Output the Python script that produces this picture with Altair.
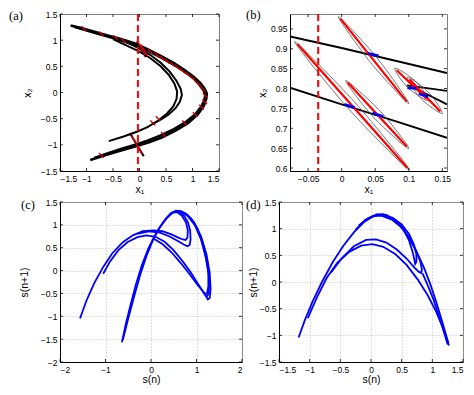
import altair as alt
import pandas as pd

# ---------------- Panel (a) data ----------------
a_outer1_x = [-1.30, -1.10, -0.85, -0.60, -0.35, -0.10, 0.15, 0.40, 0.65, 0.85, 1.02, 1.15, 1.23, 1.27, 1.26, 1.21, 1.10, 0.92, 0.68, 0.42, 0.18, -0.05, -0.35, -0.65, -0.93]
a_outer1_y = [1.28, 1.23, 1.16, 1.09, 1.02, 0.94, 0.83, 0.70, 0.56, 0.43, 0.30, 0.18, 0.07, -0.02, -0.12, -0.26, -0.42, -0.58, -0.73, -0.86, -0.95, -1.02, -1.11, -1.20, -1.29]
a_outer2_x = [-1.22, -0.85, -0.35, -0.10, 0.15, 0.40, 0.65, 0.85, 1.02, 1.13, 1.21, 1.24, 1.22, 1.16, 1.05, 0.88, 0.65, 0.40, 0.15, -0.05, -0.35, -0.62, -0.85]
a_outer2_y = [1.25, 1.14, 1.00, 0.91, 0.80, 0.67, 0.53, 0.40, 0.27, 0.15, 0.04, -0.05, -0.16, -0.28, -0.42, -0.56, -0.70, -0.82, -0.92, -0.99, -1.08, -1.17, -1.25]
a_inner1_x = [-0.50, -0.25, 0.00, 0.20, 0.40, 0.55, 0.66, 0.71, 0.70, 0.64, 0.52, 0.35, 0.15, -0.05, -0.30, -0.58]
a_inner1_y = [1.02, 0.90, 0.78, 0.66, 0.50, 0.34, 0.17, 0.02, -0.12, -0.26, -0.40, -0.54, -0.66, -0.75, -0.84, -0.93]
a_inner2_x = [-0.45, -0.20, 0.00, 0.20, 0.40, 0.57, 0.70, 0.78, 0.80, 0.76, 0.68, 0.55, 0.40, 0.25]
a_inner2_y = [1.04, 0.94, 0.84, 0.72, 0.57, 0.40, 0.22, 0.06, -0.05, -0.18, -0.30, -0.42, -0.52, -0.60]
a_red_x = [-1.05, -0.72, -0.45, -0.30, 0.05, 0.20, 0.32, 0.42, 0.52, 0.62, 0.72, 0.82, 0.92, 1.02, 1.12, 1.20, 1.24, 1.23, 1.17, 1.05, 0.85, 0.45, 0.25, 0.35, -0.72]
a_red_y = [1.22, 1.12, 1.05, 0.99, 0.86, 0.78, 0.72, 0.66, 0.60, 0.54, 0.48, 0.41, 0.34, 0.26, 0.16, 0.06, -0.06, -0.18, -0.28, -0.42, -0.58, -0.80, -0.58, -0.50, -1.20]
a_blackseg = {"x": [-0.05, -0.18], "y": [0.98, -0.78], "x2": [0.12, 0.08], "y2": [0.68, -1.22]}
a_redseg = {"x": [-0.02, 0.02, -0.15], "y": [0.95, 0.92, -0.82], "x2": [0.10, 0.15, 0.05], "y2": [0.72, 0.70, -1.18]}
a_vline = [-0.03]
a_ticks = [-1.5, -1, -0.5, 0, 0.5, 1, 1.5]

# ---------------- Panel (b) data ----------------
b_lines = {
    "upper": ([-0.077, 0.0, 0.08, 0.157], [0.931, 0.902, 0.870, 0.839]),
    "lower": ([-0.077, 0.0, 0.08, 0.157], [0.802, 0.760, 0.718, 0.676]),
    "r1": ([0.097, 0.157], [0.808, 0.794]),
    "r2": ([0.102, 0.157], [0.807, 0.760]),
}
# ellipse outlines: tipA, side1, tipB, side2
b_ell = {
    "e1": ([-0.070, 0.0205, 0.101, 0.0105], [0.918, 0.7635, 0.595, 0.7485]),
    "e2": ([-0.005, 0.0524, 0.100, 0.0432], [0.981, 0.8778, 0.762, 0.8652]),
    "e3": ([0.006, 0.058, 0.100, 0.048], [0.820, 0.742, 0.649, 0.727]),
    "e4": ([0.079, 0.1096, 0.130, 0.0994], [0.851, 0.819, 0.769, 0.801]),
    "e5": ([0.098, 0.1294, 0.150, 0.1186], [0.828, 0.791, 0.737, 0.774]),
}
b_redseg = {"x": [-0.066, -0.002, 0.009, 0.082, 0.101], "y": [0.912, 0.976, 0.815, 0.846, 0.823],
            "x2": [0.098, 0.097, 0.097, 0.127, 0.147], "y2": [0.600, 0.767, 0.654, 0.774, 0.742]}
b_blueseg = {"x": [0.039, 0.004, 0.046, 0.098, 0.115], "y": [0.8886, 0.7602, 0.7382, 0.8016, 0.7866],
             "x2": [0.055, 0.020, 0.062, 0.112, 0.129], "y2": [0.8824, 0.7518, 0.7298, 0.8004, 0.7794]}
b_vline = [-0.035]
b_xticks = [-0.05, 0, 0.05, 0.1, 0.15]
b_yticks = [0.6, 0.65, 0.7, 0.75, 0.8, 0.85, 0.9, 0.95]

# ---------------- Panel (c) data ----------------
c_lines = {
    "p1": ([-1.56, -1.42, -1.25, -1.05, -0.85, -0.62, -0.40, -0.18, 0.05, 0.25, 0.45, 0.60, 0.70, 0.76, 0.80, 0.81, 0.77, 0.68, 0.57, 0.47, 0.36, 0.22, 0.08, -0.06, -0.20, -0.33, -0.45, -0.55, -0.64],
           [-1.05, -0.66, -0.28, 0.08, 0.38, 0.62, 0.77, 0.86, 0.88, 0.86, 0.79, 0.72, 0.68, 0.67, 0.72, 0.88, 1.05, 1.20, 1.28, 1.26, 1.16, 0.98, 0.76, 0.48, 0.12, -0.30, -0.75, -1.15, -1.57]),
    "p2": ([-1.05, -0.90, -0.72, -0.52, -0.30, -0.10, 0.10, 0.30, 0.50, 0.70, 0.88, 1.02, 1.13, 1.20, 1.25, 1.29, 1.31, 1.29, 1.22, 1.10, 0.95, 0.80, 0.66, 0.55, 0.44, 0.32, 0.18, 0.04, -0.10, -0.24, -0.38, -0.50, -0.62],
           [-0.07, 0.20, 0.44, 0.62, 0.73, 0.77, 0.74, 0.63, 0.44, 0.20, -0.05, -0.27, -0.44, -0.55, -0.63, -0.60, -0.40, -0.05, 0.35, 0.75, 1.05, 1.22, 1.30, 1.31, 1.26, 1.13, 0.93, 0.66, 0.32, -0.10, -0.60, -1.05, -1.52]),
    "p3": ([-0.30, -0.05, 0.20, 0.42, 0.60, 0.72, 0.80, 0.85, 0.87, 0.86, 0.81, 0.72, 0.62, 0.52],
           [0.80, 0.86, 0.83, 0.74, 0.64, 0.57, 0.53, 0.56, 0.68, 0.88, 1.06, 1.21, 1.29, 1.29]),
    "p4": ([0.05, 0.25, 0.45, 0.65, 0.85, 1.00, 1.12, 1.19, 1.23, 1.26, 1.26, 1.20, 1.10, 0.96, 0.82, 0.68, 0.58],
           [0.70, 0.58, 0.40, 0.17, -0.08, -0.28, -0.43, -0.51, -0.50, -0.35, -0.05, 0.30, 0.68, 1.00, 1.18, 1.28, 1.30]),
    "p5": ([1.22, 1.27, 1.28, 1.24, 1.15, 1.02, 0.88, 0.74, 0.62],
           [-0.58, -0.50, -0.20, 0.15, 0.55, 0.92, 1.14, 1.26, 1.30]),
}
c_xticks = [-2, -1, 0, 1, 2]
c_yticks = [-2, -1.5, -1, -0.5, 0, 0.5, 1, 1.5]

# ---------------- Panel (d) data ----------------
d_lines = {
    "d1": ([-1.18, -1.08, -0.95, -0.80, -0.62, -0.45, -0.28, -0.12, 0.02, 0.12, 0.25, 0.38, 0.50, 0.62, 0.74, 0.86, 0.97, 1.07, 1.16, 1.22, 1.26, 1.27],
           [-1.04, -0.72, -0.36, 0.00, 0.38, 0.68, 0.93, 1.12, 1.22, 1.26, 1.24, 1.16, 1.03, 0.83, 0.58, 0.28, -0.05, -0.40, -0.74, -0.98, -1.15, -1.19]),
    "d2": ([1.26, 1.18, 1.06, 0.92, 0.76, 0.58, 0.40, 0.20, 0.02, -0.16, -0.35, -0.55, -0.72, -0.87, -0.97, -1.03],
           [-1.14, -0.88, -0.55, -0.24, 0.05, 0.32, 0.52, 0.66, 0.71, 0.68, 0.57, 0.36, 0.08, -0.26, -0.52, -0.68]),
    "d3": ([-0.65, -0.48, -0.28, -0.08, 0.08, 0.25, 0.42, 0.58, 0.70, 0.78, 0.82, 0.83, 0.80, 0.72, 0.62, 0.48, 0.34, 0.18, 0.04, -0.10, -0.25],
           [0.18, 0.44, 0.67, 0.79, 0.80, 0.74, 0.61, 0.44, 0.28, 0.19, 0.17, 0.24, 0.40, 0.62, 0.84, 1.04, 1.17, 1.24, 1.24, 1.16, 0.98]),
    "d4": ([-0.20, -0.05, 0.10, 0.25, 0.40, 0.52, 0.62, 0.68, 0.71, 0.72, 0.74, 0.74, 0.70, 0.62, 0.50, 0.36, 0.20, 0.05, -0.10],
           [1.06, 1.19, 1.27, 1.26, 1.16, 1.00, 0.78, 0.56, 0.40, 0.34, 0.38, 0.52, 0.70, 0.90, 1.08, 1.20, 1.27, 1.25, 1.16]),
    "d6": ([0.84, 0.92, 1.02, 1.12, 1.20, 1.25],
           [0.16, -0.05, -0.33, -0.68, -0.98, -1.17]),
}
d_ticks = [-1.5, -1, -0.5, 0, 0.5, 1, 1.5]

LABEL_FONT = "Liberation Sans"


def series_df(series):
    rows = []
    for name, (xs, ys) in series.items():
        for i, (x, y) in enumerate(zip(xs, ys)):
            rows.append({"s": name, "i": i, "x": x, "y": y})
    return pd.DataFrame(rows)


def make_enc(xdom, ydom, xvals, yvals, xtitle, ytitle, grid, ytpad, xtpad):
    ax = alt.Axis(values=xvals, title=xtitle, grid=grid, format="~g", titlePadding=xtpad)
    ay = alt.Axis(values=yvals, title=ytitle, grid=grid, format="~g", titlePadding=ytpad)
    X = alt.X("x:Q", scale=alt.Scale(domain=xdom, nice=False, zero=False), axis=ax)
    Y = alt.Y("y:Q", scale=alt.Scale(domain=ydom, nice=False, zero=False), axis=ay)
    return X, Y


def label_layer(txt, dx, dy):
    return alt.Chart(pd.DataFrame({"t": [txt]})).mark_text(
        font="Liberation Serif", fontSize=12.5, align="left", baseline="middle", color="black"
    ).encode(x=alt.value(dx), y=alt.value(dy), text="t:N")


def inner_ticks(X, Y, xvals, yvals, W, H, L=3):
    """MATLAB-style inward tick marks on all four sides."""
    dx = pd.DataFrame({"x": xvals})
    dy = pd.DataFrame({"y": yvals})
    style = dict(color="black", strokeWidth=0.8)
    return [
        alt.Chart(dx).mark_rule(**style).encode(x=X, y=alt.value(H), y2=alt.value(H - L)),
        alt.Chart(dx).mark_rule(**style).encode(x=X, y=alt.value(0), y2=alt.value(L)),
        alt.Chart(dy).mark_rule(**style).encode(y=Y, x=alt.value(0), x2=alt.value(L)),
        alt.Chart(dy).mark_rule(**style).encode(y=Y, x=alt.value(W), x2=alt.value(W - L)),
    ]


# ---------------- Panel (a) ----------------
WA, HA = 159, 157
Xa, Ya = make_enc([-1.5, 1.5], [-1.5, 1.5], a_ticks, a_ticks, "x₁", "x₂", False, 8, 2)
a_outer = series_df({"o1": (a_outer1_x, a_outer1_y), "o2": (a_outer2_x, a_outer2_y)})
a_inner = series_df({"i1": (a_inner1_x, a_inner1_y), "i2": (a_inner2_x, a_inner2_y)})
pa = alt.layer(
    alt.Chart(a_outer).mark_line(color="black", strokeWidth=2.6, clip=True).encode(x=Xa, y=Ya, detail="s:N", order="i:Q"),
    alt.Chart(a_inner).mark_line(color="black", strokeWidth=2.0, clip=True).encode(x=Xa, y=Ya, detail="s:N", order="i:Q"),
    alt.Chart(pd.DataFrame(a_blackseg)).mark_rule(color="black", strokeWidth=2).encode(x=Xa, y=Ya, x2="x2:Q", y2="y2:Q"),
    alt.Chart(pd.DataFrame(a_redseg)).mark_rule(color="#e00000", strokeWidth=1.3).encode(x=Xa, y=Ya, x2="x2:Q", y2="y2:Q"),
    alt.Chart(pd.DataFrame({"x": a_red_x, "y": a_red_y})).mark_point(
        shape="M -1 -1 L 1 1", stroke="#d00000", strokeWidth=1.4, size=22, filled=False, opacity=1).encode(x=Xa, y=Ya),
    alt.Chart(pd.DataFrame({"x": a_vline})).mark_rule(color="#ff0000", strokeWidth=2, strokeDash=[7, 4]).encode(x=Xa),
    *inner_ticks(Xa, Ya, a_ticks, a_ticks, WA, HA),
    label_layer("(a)", -51, 2),
).properties(width=WA, height=HA)

# ---------------- Panel (b) ----------------
WB, HB = 157, 157
Xb, Yb = make_enc([-0.077, 0.157], [0.5925, 0.9875], b_xticks, b_yticks, "x₁", "x₂", False, 3, 2)
pb = alt.layer(
    alt.Chart(series_df(b_lines)).mark_line(color="black", strokeWidth=1.9, clip=True).encode(x=Xb, y=Yb, detail="s:N", order="i:Q"),
    alt.Chart(series_df(b_ell)).mark_line(color="#555555", strokeWidth=0.8, interpolate="cardinal-closed", clip=True).encode(x=Xb, y=Yb, detail="s:N", order="i:Q"),
    alt.Chart(pd.DataFrame(b_redseg)).mark_rule(color="#ff0000", strokeWidth=2.2).encode(x=Xb, y=Yb, x2="x2:Q", y2="y2:Q"),
    alt.Chart(pd.DataFrame(b_blueseg)).mark_rule(color="#0000ff", strokeWidth=2.6).encode(x=Xb, y=Yb, x2="x2:Q", y2="y2:Q"),
    alt.Chart(pd.DataFrame({"x": b_vline})).mark_rule(color="#ff0000", strokeWidth=2, strokeDash=[7, 4]).encode(x=Xb),
    *inner_ticks(Xb, Yb, b_xticks, b_yticks, WB, HB),
    label_layer("(b)", -44, 1),
).properties(width=WB, height=HB)

# ---------------- Panel (c) ----------------
WC, HC = 182, 160
Xc, Yc = make_enc([-2, 2], [-2, 1.5], c_xticks, c_yticks, "s(n)", "s(n+1)", True, 11, 1)
pc = alt.layer(
    alt.Chart(series_df(c_lines)).mark_line(color="#0000ff", strokeWidth=1.8, clip=True).encode(x=Xc, y=Yc, detail="s:N", order="i:Q"),
    *inner_ticks(Xc, Yc, c_xticks, c_yticks, WC, HC),
    label_layer("(c)", -39, 3),
).properties(width=WC, height=HC)

# ---------------- Panel (d) ----------------
WD, HD = 184, 160
Xd, Yd = make_enc([-1.5, 1.5], [-1.5, 1.5], d_ticks, d_ticks, "s(n)", "s(n+1)", True, 1, 1)
pd_ = alt.layer(
    alt.Chart(series_df(d_lines)).mark_line(color="#0000ff", strokeWidth=1.8, clip=True).encode(x=Xd, y=Yd, detail="s:N", order="i:Q"),
    *inner_ticks(Xd, Yd, d_ticks, d_ticks, WD, HD),
    label_layer("(d)", -33, 3),
).properties(width=WD, height=HD)

chart = alt.concat(
    pa, pb, pc, pd_,
    columns=2, align="none", spacing={"row": 1, "column": 2},
).properties(
    padding={"left": 0, "top": 0, "right": 0, "bottom": 0}
).configure_view(
    stroke="#7f7f7f", strokeWidth=1
).configure_axis(
    labelFont=LABEL_FONT, labelFontSize=8.5, labelColor="black", labelPadding=3,
    titleFont=LABEL_FONT, titleFontSize=10.5, titleFontWeight="normal", titleColor="black",
    domainColor="black", domainWidth=1, ticks=False,
    gridColor="#b0b0b0", gridDash=[1, 2], gridWidth=0.8,
)

chart.save("out.html", embed_options={"renderer": "svg", "actions": False})
